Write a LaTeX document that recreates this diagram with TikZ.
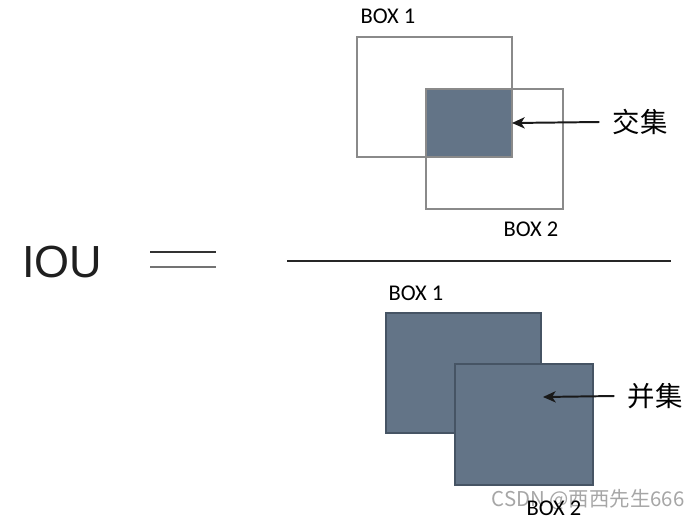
\documentclass[tikz,border=0pt]{standalone}
\usepackage{fontspec}
\setmainfont{Carlito}
\newfontfamily\iousans{Liberation Sans}
\newfontfamily\cjk{Noto Sans CJK SC}
\usetikzlibrary{arrows.meta}
\definecolor{slatefill}{RGB}{99,116,135}
\definecolor{slateline}{RGB}{70,84,100}
\definecolor{boxgray}{RGB}{138,138,138}
\tikzset{
  boxout/.style={draw=boxgray,line width=1.3pt,inner sep=0pt,outer sep=0pt},
  boxfilled/.style={draw=slateline,fill=slatefill,line width=0.8pt,inner sep=0pt,outer sep=0pt},
  boxlabel/.style={font=\fontsize{16}{18}\selectfont,text=black,inner sep=0pt},
  setlabel/.style={font=\cjk\fontsize{19.5}{22}\selectfont,text=black,inner sep=0pt},
  pointer/.style={-{Stealth[length=9pt,width=8pt,inset=2.5pt]},black!90,line width=1.4pt},
}
\begin{document}
\begin{tikzpicture}[x=0.025cm,y=-0.025cm,line cap=butt]
\useasboundingbox (0,0) rectangle (697,522);
% left side: IOU =
\node[font=\iousans\fontsize{32}{36}\selectfont,text=black!88,inner sep=0pt] (iou) at (62,262) {IOU};
\coordinate (eqa) at (150,252);
\coordinate (eqb) at (216,252);
\coordinate (eqc) at (150,267);
\coordinate (eqd) at (216,267);
\draw[black!80,line width=1.2pt] (eqa) -- (eqb);
\draw[black!55,line width=1.6pt] (eqc) -- (eqd);
% fraction bar
\coordinate (barl) at (287,261);
\coordinate (barr) at (671,261);
\draw[black!85,line width=1.1pt] (barl) -- (barr);
% numerator: intersection
\node[boxfilled,draw=none,minimum width=2.15cm,minimum height=1.7cm] (inter) at (469,123) {};
\node[boxout,minimum width=3.875cm,minimum height=3cm] (topa) at (434.5,97) {};
\node[boxout,minimum width=3.425cm,minimum height=3cm] (topb) at (494.5,149) {};
\node[boxlabel] (topalabel) at (388,16) {BOX 1};
\node[boxlabel] (topblabel) at (531,229) {BOX 2};
\node[setlabel] (jiao) at (640,122) {交集};
\draw[pointer] (jiao.west) ++(-13,0) -- (inter.east);
% denominator: union
\node[boxfilled,minimum width=3.875cm,minimum height=3cm] (bota) at (463.5,373) {};
\node[boxfilled,minimum width=3.45cm,minimum height=3.025cm] (botb) at (524,424.5) {};
\node[boxlabel] (botalabel) at (416,293) {BOX 1};
\node[setlabel] (bing) at (655,396) {并集};
\coordinate (bingtip) at (543,397);
\draw[pointer] (bing.west) ++(-13,0) -- (bingtip);
\node[font=\cjk\fontsize{14.5}{16}\selectfont,text=black!35,inner sep=0pt] (mark) at (588,500) {CSDN @西西先生666};
\node[boxlabel] (botblabel) at (554,508) {BOX 2};
\end{tikzpicture}
\end{document}
